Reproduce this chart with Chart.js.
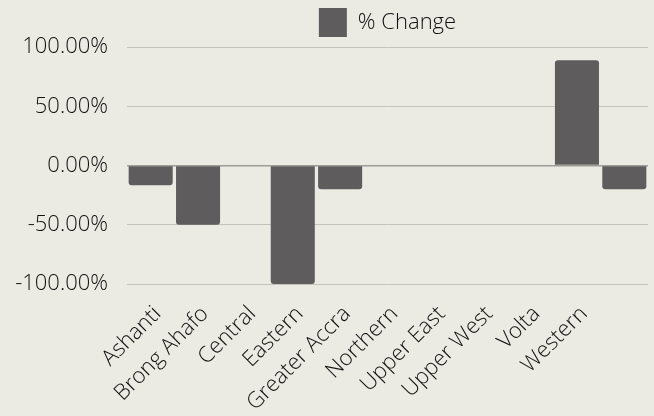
<!DOCTYPE html>
<html>
<head>
<meta charset="utf-8">
<script src="https://cdn.jsdelivr.net/npm/chart.js@4"></script>
<style>
  html, body { margin: 0; padding: 0; background: #ebebe4; }
  #wrap { width: 654px; height: 416px; }
</style>
</head>
<body>
<div id="wrap"><canvas id="chart"></canvas></div>
<script>
// regions as they sit on the category axis (the last slot has no label in the source)
const regions = ["Ashanti", "Brong Ahafo", "Central", "Eastern", "Greater Accra",
  "Northern", "Upper East", "Upper West", "Volta", "Western", ""];
const pctChange = [-16.67, -50, 0, -100, -20, 0, 0, 0, 0, 88.89, -20];
const yTicks = [-100, -50, 0, 50, 100];

const font = "'Open Sans', 'Noto Sans', sans-serif";
const barColor = "#5e5c5c";
const textColor = "#111";

new Chart(document.getElementById("chart"), {
  type: "bar",
  data: {
    labels: regions,
    datasets: [{
      label: "% Change",
      data: pctChange,
      backgroundColor: barColor,
      borderRadius: 3,
      borderSkipped: "start",
      barPercentage: 0.93,
      categoryPercentage: 1,
    }],
  },
  options: {
    responsive: true,
    maintainAspectRatio: false,
    animation: false,
    layout: { padding: { top: 2, right: 6, left: 0, bottom: 0 } },
    plugins: {
      tooltip: { enabled: false },
      legend: {
        position: "top",
        fullSize: false,
        labels: {
          boxWidth: 28,
          boxHeight: 29,
          padding: 6,
          color: textColor,
          font: { family: font, size: 22, weight: 300 },
        },
      },
    },
    scales: {
      x: {
        grid: { display: false },
        border: { display: false },
        ticks: {
          autoSkip: false,
          minRotation: 45,
          maxRotation: 45,
          color: textColor,
          padding: 9,
          labelOffset: 7,
          font: { family: font, size: 22, weight: 300 },
        },
        afterFit: (s) => { s.height = 132; },
      },
      y: {
        min: -100,
        max: 100,
        afterBuildTicks: (s) => { s.ticks = yTicks.map((v) => ({ value: v })); },
        grid: {
          drawTicks: false,
          color: (c) => (c.tick && c.tick.value === 0 ? "#9e9e98" : "#c2c2ba"),
          lineWidth: (c) => (c.tick && c.tick.value === 0 ? 1.5 : 1),
        },
        border: { display: false },
        ticks: {
          padding: 19,
          color: textColor,
          font: { family: font, size: 22, weight: 300 },
          callback: (v) => v.toFixed(2) + "%",
        },
        afterFit: (s) => { s.width = 127; },
      },
    },
  },
});
</script>
</body>
</html>
